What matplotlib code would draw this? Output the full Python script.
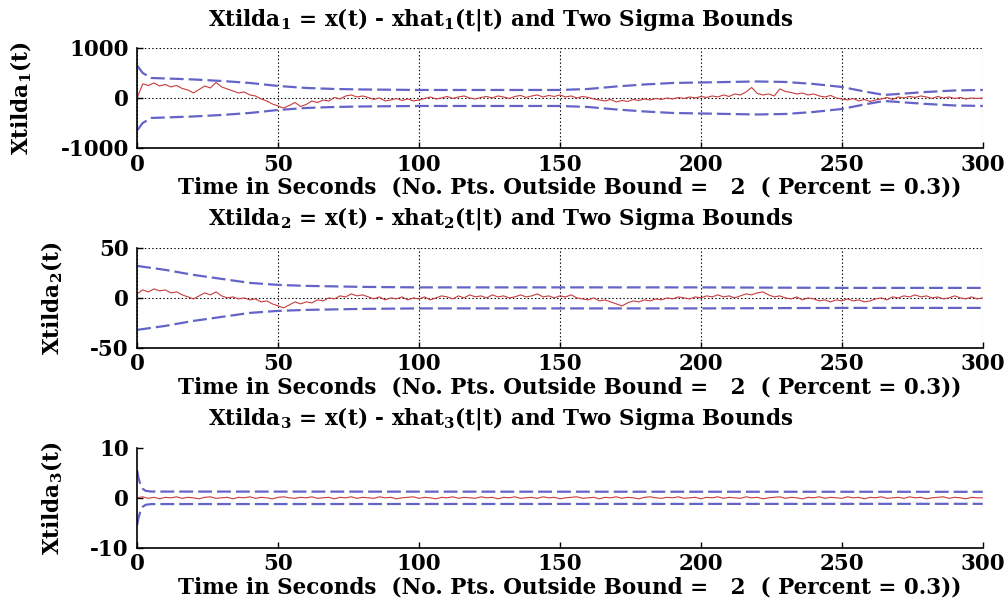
import numpy as np
import matplotlib
matplotlib.use("Agg")
import matplotlib.pyplot as plt

plt.rcParams['font.family'] = 'DejaVu Serif'
plt.rcParams['font.weight'] = 'bold'
plt.rcParams['mathtext.fontset'] = 'dejavuserif'
plt.rcParams['lines.scale_dashes'] = False
plt.rcParams['axes.unicode_minus'] = False

# time grid of the estimation errors (seconds)
time = np.arange(0, 301, 2)

# state 1 error
xtilda1 = [0, 280, 250, 300, 240, 270, 220, 250, 190, 160,
           100, 170, 240, 200, 310, 220, 180, 140, 100, 120,
           60, 40, -20, -60, -120, -160, -200, -150, -90, -170,
           -130, -60, -90, -40, -60, 10, -20, 40, 60, 20,
           40, 10, -30, 0, -60, -40, -10, -50, -20, -60,
           -40, -10, 20, -20, 0, 30, -10, 20, 40, 0,
           -20, 10, 30, 0, 40, 20, -10, 30, 50, 10,
           40, 60, 20, 50, 30, 60, 20, 40, 0, 30,
           10, -20, -40, -60, -30, -80, -50, -70, -30, -50,
           -20, -40, -10, -30, 0, -20, 10, -10, 20, 0,
           30, 10, 40, 20, 60, 30, 80, 60, 120, 210,
           90, 60, 80, 40, 180, 130, 110, 80, 100, 60,
           80, 40, 20, 50, 0, -20, -40, -10, -60, -30,
           -70, -40, -20, 10, -30, 20, 0, 30, 10, 40,
           20, -10, 30, 0, 20, -10, 10, -20, 0, -10, 0]

# state 2 error
xtilda2 = [4, 8, 6, 9, 7, 8, 5, 6, 3, 1,
           -1, 2, 5, 3, 6, 2, 0, 1, -1, 0,
           -2, -1, -4, -3, -6, -8, -10, -7, -4, -6,
           -4, -5, -2, -3, 0, -1, 2, 1, 4, 2,
           3, 1, -1, 1, -2, 0, -1, 1, -2, 0,
           -1, 1, -2, 0, 2, 1, -1, 2, 0, 3,
           1, 2, 0, 3, 1, 2, 0, 1, 3, 1,
           2, 4, 1, 2, 0, 2, 1, 3, 0, -1,
           -2, 0, -3, -2, -4, -6, -8, -5, -3, -4,
           -2, -3, -1, -2, 0, -1, 1, 0, -1, 1,
           0, 2, 1, 3, 1, 2, 0, 2, 4, 3,
           5, 6, 3, 1, 2, 0, -1, 1, -2, 0,
           -1, -3, -2, -4, -2, -3, -1, -3, -2, -4,
           -3, -1, 0, -2, 1, 0, 2, 1, 3, 1,
           2, 0, 1, -1, 0, 2, 0, -1, 1, -1, 0]

# state 3 error
xtilda3 = [0.0, 0.2, -0.1, 0.1, -0.2, 0.1, 0.0, 0.2, -0.1, 0.1,
           0.0, -0.2, 0.1, 0.2, -0.1, 0.0, 0.1, -0.2, 0.1, 0.0,
           0.2, -0.1, 0.1, 0.0, -0.2, 0.1, 0.2, 0.0, -0.1, 0.1,
           0.0, 0.2, -0.1, 0.0, 0.1, -0.2, 0.1, 0.0, 0.2, -0.1,
           0.1, 0.0, -0.1, 0.2, 0.0, 0.1, -0.2, 0.0, 0.1, 0.2,
           -0.1, 0.1, 0.0, -0.2, 0.1, 0.0, 0.2, -0.1, 0.1, 0.0,
           -0.1, 0.2, 0.0, 0.1, -0.2, 0.1, 0.0, 0.2, -0.1, 0.0,
           0.1, -0.1, 0.2, 0.0, 0.1, -0.2, 0.0, 0.1, 0.2, -0.1,
           0.0, 0.1, -0.2, 0.1, 0.0, 0.2, -0.1, 0.1, 0.0, -0.2,
           0.1, 0.2, 0.0, -0.1, 0.1, 0.0, 0.2, -0.1, 0.0, 0.1,
           -0.2, 0.1, 0.0, 0.2, -0.1, 0.1, 0.0, -0.1, 0.2, 0.0,
           0.1, -0.2, 0.0, 0.1, 0.2, -0.1, 0.1, 0.0, -0.2, 0.1,
           0.0, 0.2, -0.1, 0.1, 0.0, -0.1, 0.2, 0.0, 0.1, -0.2,
           0.1, 0.0, 0.2, -0.1, 0.0, 0.1, -0.1, 0.2, 0.0, 0.1,
           -0.2, 0.0, 0.1, 0.2, -0.1, 0.1, 0.0, -0.2, 0.1, 0.0, 0.0]

# two sigma bounds (knots)
sig1_t = [0, 2, 5, 10, 20, 30, 40, 50, 60, 70, 80, 90, 100, 120, 140, 150,
          160, 170, 180, 190, 200, 210, 220, 230, 240, 250, 258, 265, 270,
          280, 290, 300]
sig1 = [650, 500, 400, 390, 370, 340, 300, 240, 200, 180, 170, 165, 160, 160,
        160, 160, 180, 230, 270, 300, 310, 320, 330, 320, 280, 220, 130, 60,
        80, 120, 150, 160]

sig2_t = [0, 10, 20, 30, 40, 50, 60, 70, 80, 100, 150, 200, 250, 300]
sig2 = [32, 28, 23, 19, 15, 13, 12, 11.5, 11, 10.5, 10.5, 10.5, 10, 10]

sig3_t = [0, 0.5, 1, 2, 3, 5, 300]
sig3 = [5.5, 4.0, 3.0, 1.8, 1.4, 1.25, 1.2]

series = [xtilda1, xtilda2, xtilda3]
bounds = [(sig1_t, sig1), (sig2_t, sig2), (sig3_t, sig3)]
ylims = [(-1000, 1000), (-50, 50), (-10, 10)]
yticks = [[-1000, 0, 1000], [-50, 0, 50], [-10, 0, 10]]
subs = ['1', '2', '3']

red = '#c83c3c'
blue = '#6464c8'
fs = 15.5

fig = plt.figure(figsize=(10.08, 6.04), dpi=100)
bottoms = [0.755, 0.424, 0.093]
ylab_x = [-0.122, -0.085, -0.085]

for i in range(3):
    ax = fig.add_axes([0.136, bottoms[i], 0.839, 0.1656])
    bt, bv = bounds[i]
    bv = np.array(bv)
    for sgn in (1, -1):
        ln, = ax.plot(bt, sgn * bv, color=blue, linewidth=1.6)
        ln.set_dashes([10, 3.6])
    ax.plot(time, series[i], color=red, linewidth=0.8)
    ax.set_xlim(0, 300)
    ax.set_ylim(*ylims[i])
    ax.set_xticks([0, 50, 100, 150, 200, 250, 300])
    ax.set_yticks(yticks[i])
    ax.tick_params(direction='in', length=4, labelsize=fs, width=1)
    ax.tick_params(axis='y', pad=6)
    ax.tick_params(axis='x', pad=4)
    for lab in ax.get_xticklabels() + ax.get_yticklabels():
        lab.set_fontweight('bold')
    ax.spines['top'].set_visible(False)
    ax.spines['right'].set_visible(False)
    ax.spines['left'].set_linewidth(1.2)
    ax.spines['bottom'].set_linewidth(1.2)
    if i < 2:
        ax.grid(True, linestyle=':', color='k', linewidth=0.8)
        ax.set_axisbelow(True)
    s = subs[i]
    ax.set_title(r'Xtilda$_\mathbf{' + s + r'}$ = x(t) - xhat$_\mathbf{' + s +
                 r'}$(t|t) and Two Sigma Bounds', fontsize=fs, fontweight='bold',
                 pad=16.5, x=0.43)
    ax.set_xlabel('Time in Seconds  (No. Pts. Outside Bound =   2  ( Percent = 0.3))',
                  fontsize=fs, fontweight='bold')
    ax.xaxis.set_label_coords(0.512, -0.29)
    ax.set_ylabel(r'Xtilda$_\mathbf{' + s + r'}$(t)', fontsize=fs, fontweight='bold')
    ax.yaxis.set_label_coords(ylab_x[i], 0.5)

fig.savefig('out.png', dpi=100)
